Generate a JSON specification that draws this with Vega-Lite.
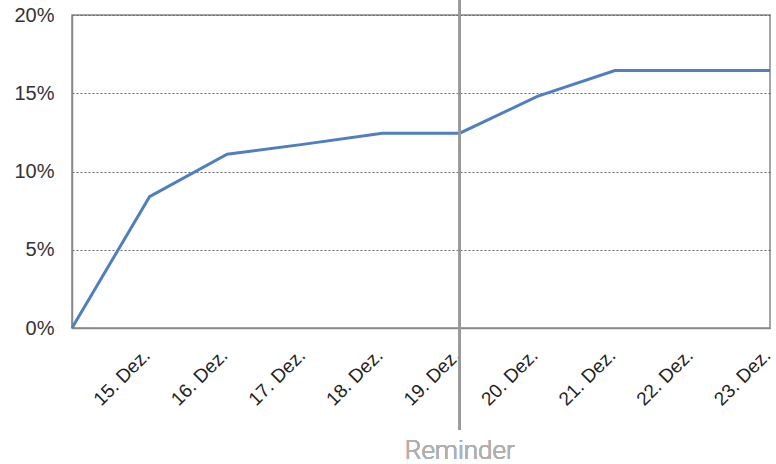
{
  "$schema": "https://vega.github.io/schema/vega-lite/v6.json",
  "width": 698,
  "height": 313,
  "autosize": {"type": "none"},
  "padding": {"left": 72, "top": 15, "right": 6, "bottom": 136},
  "background": "white",
  "config": {
    "view": {"stroke": "#888", "strokeWidth": 1.5},
    "font": "Liberation Sans"
  },
  "data": {
    "values": [
      {"day": 14, "rate": 0.0},
      {"day": 15, "rate": 0.0839},
      {"day": 16, "rate": 0.111},
      {"day": 17, "rate": 0.1175},
      {"day": 18, "rate": 0.1245},
      {"day": 19, "rate": 0.1245},
      {"day": 20, "rate": 0.148},
      {"day": 21, "rate": 0.1645},
      {"day": 22, "rate": 0.1645},
      {"day": 23, "rate": 0.1645}
    ]
  },
  "layer": [
    {
      "mark": {"type": "line", "color": "#4f7fbf", "strokeWidth": 3},
      "encoding": {
        "x": {
          "field": "day",
          "type": "quantitative",
          "scale": {"domain": [14, 23], "nice": false, "zero": false},
          "axis": {
            "title": null,
            "values": [15, 16, 17, 18, 19, 20, 21, 22, 23],
            "labelExpr": "datum.value + '. Dez.'",
            "labelAngle": -45,
            "labelAlign": "right",
            "labelBaseline": "middle",
            "labelFontSize": 19,
            "labelColor": "#222",
            "labelPadding": 24,
            "labelOffset": -3,
            "labelBound": false,
            "ticks": false,
            "grid": false,
            "domainColor": "#888",
            "domainWidth": 1.5
          }
        },
        "y": {
          "field": "rate",
          "type": "quantitative",
          "scale": {"domain": [0, 0.2], "nice": false},
          "axis": {
            "title": null,
            "format": ".0%",
            "values": [0, 0.05, 0.1, 0.15, 0.2],
            "labelFontSize": 20,
            "labelColor": "#333",
            "labelPadding": 18,
            "ticks": false,
            "gridColor": "#666",
            "gridDash": [2, 2],
            "gridWidth": 1,
            "domainColor": "#888",
            "domainWidth": 1.5
          }
        }
      }
    },
    {
      "mark": {"type": "rule", "color": "#999", "strokeWidth": 2},
      "encoding": {
        "x": {"datum": 19, "type": "quantitative"},
        "y": {"datum": 0.2096, "type": "quantitative"},
        "y2": {"datum": -0.0652}
      }
    },
    {
      "mark": {"type": "text", "text": "Reminder", "color": "#b0b0b0", "fontSize": 26, "font": "Roboto", "fontWeight": 300, "align": "center", "baseline": "alphabetic"},
      "encoding": {
        "x": {"datum": 19, "type": "quantitative"},
        "y": {"datum": -0.0836, "type": "quantitative"}
      }
    }
  ]
}
